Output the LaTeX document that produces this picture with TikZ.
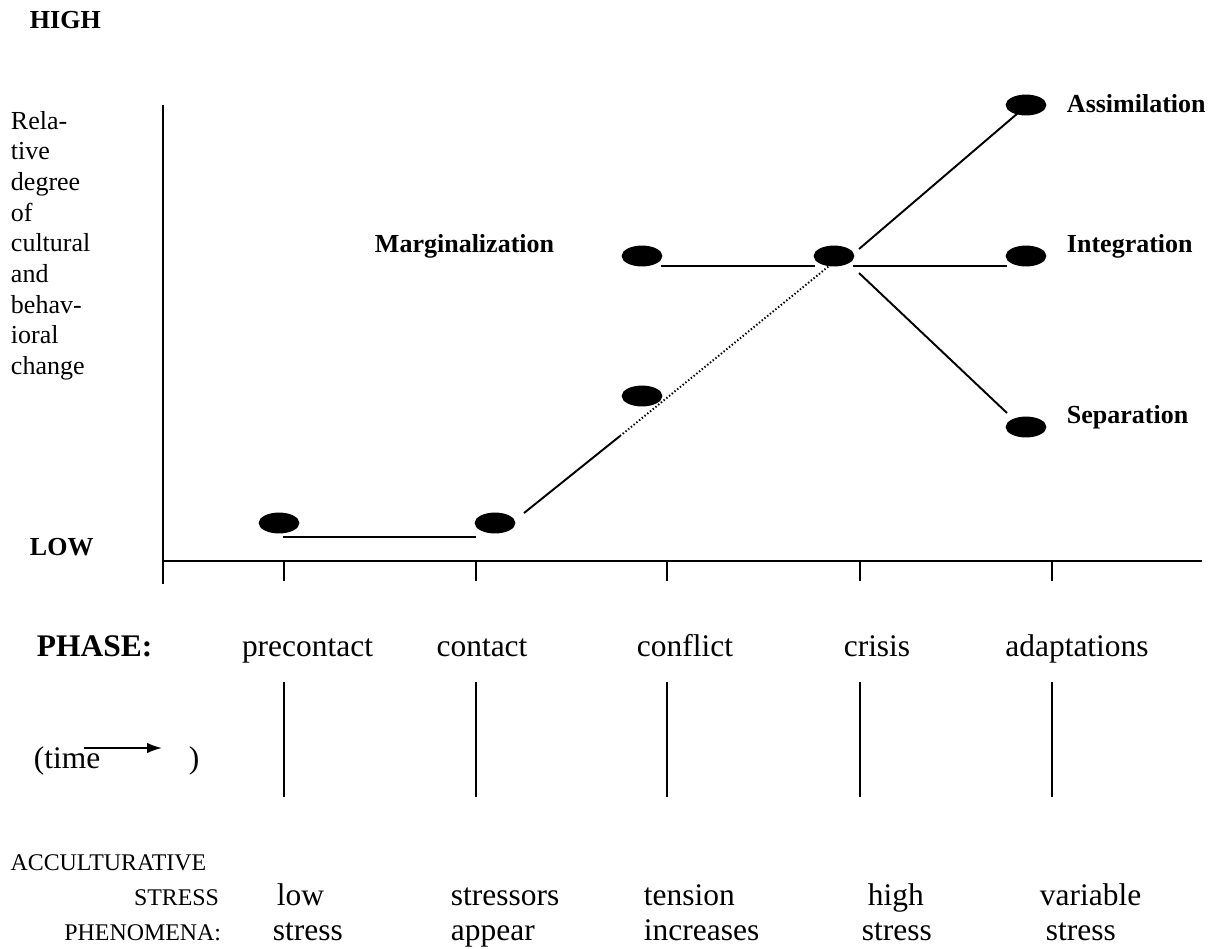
\documentclass[tikz,border=0pt]{standalone}
\usepackage{fontspec}
\setmainfont{Liberation Serif}
\usetikzlibrary{shapes.geometric, arrows.meta}

\begin{document}
\begin{tikzpicture}[x = 0.02cm, y = -0.02cm, line width = 1.1pt,
	stage/.style = {ellipse, fill = black, inner sep = 0pt,
		minimum width = 23.2pt, minimum height = 11.9pt},
	txt/.style = {inner sep = 0pt, anchor = base west},
	big/.style = {txt, font = \fontsize{17.9}{21}\selectfont},
	mid/.style = {txt, font = \fontsize{14.8}{17.4}\selectfont},
	small/.style = {txt, font = \fontsize{13.6}{16}\selectfont}]

	\useasboundingbox (0, 0) rectangle (1220, 948);

	% Definitions

	\def\axisy{561}		% height of the time axis
	\def\phasey{656}	% baseline of the phase names
	\def\pitch{30.7}	% line pitch of the axis label

	% Axes

	\draw (163, 105) -- (163, 584);
	\draw (163, \axisy) -- (1202, \axisy);

	% Ticks and phase separators

	\foreach \x in {284, 476, 667, 860, 1052} {
		\draw (\x, \axisy) -- (\x, 581);
		\draw (\x, 682) -- (\x, 797);
	}

	% Axis labels

	\node [mid] (high) at (29, 28) {\textbf{HIGH}};
	\node [mid] (low) at (29, 555) {\textbf{LOW}};

	\foreach \word [count = \i from 0] in {Rela-, tive, degree, of, cultural, and, behav-, ioral, change}
		\node [mid] (degree-\i) at (10, {129 + \pitch * \i}) {\word};

	% Stages

	\node [stage] (precontact) at (279, 523) {};
	\node [stage] (contact) at (495, 523) {};
	\node [stage] (conflict-low) at (642, 396) {};
	\node [stage] (conflict-high) at (642, 256) {};
	\node [stage] (crisis) at (834, 256) {};
	\node [stage] (assim) at (1026, 105) {};
	\node [stage] (integ) at (1026, 256) {};
	\node [stage] (separ) at (1026, 427) {};

	\coordinate (bend) at (620, 436);

	% Paths between stages

	\draw ([shift = {(4, 14)}] precontact.center) -- ([shift = {(-19, 14)}] contact.center);
	\draw ([shift = {(29, -10)}] contact.center) -- (bend);
	\draw [dash pattern = on 0.8pt off 1.2pt] (bend) -- ([shift = {(-5, 10)}] crisis.center);
	\draw ([shift = {(19, 10)}] conflict-high.center) -- ([shift = {(-19, 10)}] crisis.center);
	\draw ([shift = {(19, 10)}] crisis.center) -- ([shift = {(-19, 10)}] integ.center);
	\draw ([shift = {(25, -7)}] crisis.center) -- ([shift = {(-8, 8)}] assim.center);
	\draw ([shift = {(25, 17)}] crisis.center) -- ([shift = {(-19, -14)}] separ.center);

	% Outcome labels

	\node [mid] (assim-label) at (1066, 112) {\textbf{Assimilation}};
	\node [mid] (integ-label) at (1066, 252) {\textbf{Integration}};
	\node [mid] (separ-label) at (1066, 423) {\textbf{Separation}};
	\node [mid] (marg-label) at (374, 252) {\textbf{Marginalization}};

	% Phases

	\node [big] (phase) at (36, \phasey) {\textbf{PHASE:}};
	\foreach \x/\name in {307.5/precontact, 482/contact, 685/conflict, 877/crisis, 1077/adaptations}
		\node [big, anchor = base] (phase-\name) at (\x, \phasey) {\name};

	% Time

	\node [big] (time) at (33, 768) {(time};
	\node [big] (time-close) at (188, 768) {)};
	\coordinate (time-tail) at (84, 748);
	\coordinate (time-head) at (162, 748);
	\draw [-{Latex[length = 8.5pt, width = 6pt]}] (time-tail) -- (time-head);

	% Stress phenomena

	\node [small] (accult) at (9.6, 870) {ACCULTURATIVE};
	\node [small, anchor = base east] (stress) at (220, 905) {STRESS};
	\node [small, anchor = base east] (phenom) at (222, 940) {PHENOMENA:};

	\foreach \xa/\wa/\xb/\wb [count = \i] in {276/low/272/stress, 450/stressors/450/appear,
		643/tension/643/increases, 867/high/861/stress, 1039/variable/1045/stress} {
		\node [big] (upper-\i) at (\xa, 905) {\wa};
		\node [big] (lower-\i) at (\xb, 940) {\wb};
	}

\end{tikzpicture}
\end{document}
